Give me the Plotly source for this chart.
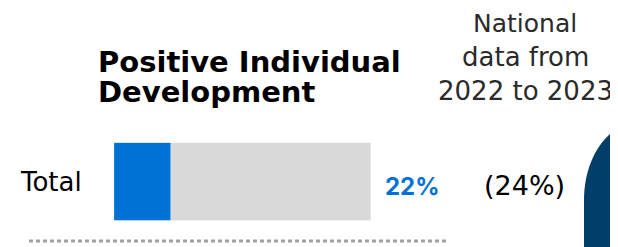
import plotly.graph_objects as go

# page has an 8px body margin; the figure is sized to fill the rest of the window
OFF = 8
W, H = 618 - OFF, 247 - OFF

categories = ["Total"]
values = [22]
national = [24]
scale_max = [100]
title_lines = ["Positive Individual", "Development"]
national_lines = ["National", "data from", "2022 to 2023"]

BLUE = "#0071D4"
GRAY = "#D9D9D9"
NAVY = "#013F6B"
SANS = "DejaVu Sans, sans-serif"
INTER = "Inter, Roboto, sans-serif"

def px(x):
    return (x - OFF) / W

def py(y):
    return 1 - (y - OFF) / H

fig = go.Figure()
fig.add_trace(go.Bar(y=categories, x=scale_max, orientation="h", marker_color=GRAY,
                     width=1, hoverinfo="skip", showlegend=False))
fig.add_trace(go.Bar(y=categories, x=values, orientation="h", marker_color=BLUE,
                     width=1, showlegend=False))

ann = []
for line, yc in zip(title_lines, [61.5, 91.5]):
    ann.append(dict(text=line, xref="paper", yref="paper", x=px(96), y=py(yc),
                    xanchor="left", yanchor="middle", showarrow=False,
                    font=dict(family=SANS, size=29, color="#000", weight=700)))
for line, yc, fs in zip(national_lines, [23.5, 56.5, 90.5], [25, 26, 26]):
    ann.append(dict(text=line, xref="paper", yref="paper", x=px(525), y=py(yc),
                    xanchor="center", yanchor="middle", showarrow=False,
                    font=dict(family=SANS, size=fs, color="#2a2a2a")))
for c, v, n in zip(categories, values, national):
    ann.append(dict(text=c, xref="paper", yref="y", x=px(18), y=c,
                    xanchor="left", yanchor="middle", showarrow=False,
                    font=dict(family=SANS, size=26, color="#000")))
    ann.append(dict(text=f"{v}%", xref="x", yref="y", x=scale_max[0], y=c, xshift=12,
                    yshift=-5, xanchor="left", yanchor="middle", showarrow=False,
                    font=dict(family=INTER, size=24, color=BLUE, weight=700)))
    ann.append(dict(text=f"({n}%)", xref="paper", yref="y", x=px(524), y=c,
                    yshift=-4, xanchor="center", yanchor="middle", showarrow=False,
                    font=dict(family=SANS, size=27, color="#000")))

k = 0.5523
cx, cy, rx, ry = 640, 200, 56, 78
path = (f"M {px(584)} {py(260)} L {px(584)} {py(cy)} "
        f"C {px(584)} {py(cy - k*ry)} {px(cx - k*rx)} {py(cy - ry)} {px(cx)} {py(cy - ry)} "
        f"L {px(cx)} {py(260)} Z")
shapes = [
    dict(type="path", xref="paper", yref="paper", path=path,
         fillcolor=NAVY, line=dict(width=0)),
    dict(type="line", xref="paper", yref="paper", x0=px(29), x1=px(448), y0=py(241), y1=py(241),
         line=dict(color="#A0A0A0", width=3, dash="4px,3px")),
]

fig.update_layout(
    width=W, height=H, margin=dict(l=0, r=0, t=0, b=0),
    paper_bgcolor="white", plot_bgcolor="white",
    barmode="overlay", bargap=0,
    xaxis=dict(domain=[px(114), px(371)], range=[0, scale_max[0]], visible=False, fixedrange=True),
    yaxis=dict(domain=[py(220.7), py(142.7)], range=[-0.5, 0.5], visible=False, fixedrange=True),
    annotations=ann, shapes=shapes, showlegend=False,
)
fig.write_html("out.html")
